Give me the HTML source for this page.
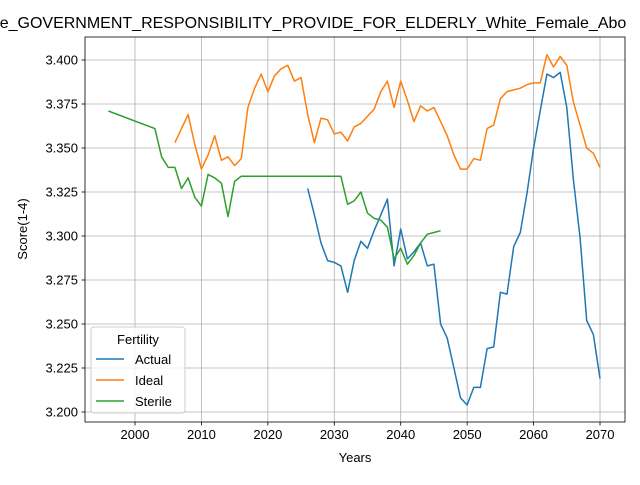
<!DOCTYPE html>
<html><head><meta charset="utf-8"><style>
body{margin:0;background:#fff;}
svg{font-family:"Liberation Sans","DejaVu Sans",sans-serif;}
</style></head><body>
<svg id="c" width="640" height="480" xmlns="http://www.w3.org/2000/svg"></svg>
<script>
const actualYears=[2026,2027,2028,2029,2030,2031,2032,2033,2034,2035,2036,2037,2038,2039,2040,2041,2042,2043,2044,2045,2046,2047,2048,2049,2050,2051,2052,2053,2054,2055,2056,2057,2058,2059,2060,2061,2062,2063,2064,2065,2066,2067,2068,2069,2070];
const actualValues=[3.327,3.312,3.296,3.286,3.285,3.283,3.268,3.286,3.297,3.293,3.303,3.312,3.321,3.283,3.304,3.287,3.291,3.296,3.283,3.284,3.250,3.242,3.225,3.208,3.204,3.214,3.214,3.236,3.237,3.268,3.267,3.294,3.302,3.324,3.350,3.371,3.392,3.390,3.393,3.373,3.332,3.299,3.252,3.244,3.219];
const idealYears=[2006,2007,2008,2009,2010,2011,2012,2013,2014,2015,2016,2017,2018,2019,2020,2021,2022,2023,2024,2025,2026,2027,2028,2029,2030,2031,2032,2033,2034,2035,2036,2037,2038,2039,2040,2041,2042,2043,2044,2045,2046,2047,2048,2049,2050,2051,2052,2053,2054,2055,2056,2057,2058,2059,2060,2061,2062,2063,2064,2065,2066,2067,2068,2069,2070];
const idealValues=[3.353,3.361,3.369,3.352,3.338,3.346,3.357,3.343,3.345,3.340,3.344,3.373,3.384,3.392,3.382,3.391,3.395,3.397,3.388,3.390,3.369,3.353,3.367,3.366,3.358,3.359,3.354,3.362,3.364,3.368,3.372,3.382,3.388,3.373,3.388,3.377,3.365,3.374,3.371,3.373,3.365,3.357,3.346,3.338,3.338,3.344,3.343,3.361,3.363,3.378,3.382,3.383,3.384,3.386,3.387,3.387,3.403,3.396,3.402,3.397,3.376,3.363,3.350,3.347,3.339];
const sterileYears=[1996,2003,2004,2005,2006,2007,2008,2009,2010,2011,2012,2013,2014,2015,2016,2017,2018,2019,2020,2021,2022,2023,2024,2025,2026,2027,2028,2029,2030,2031,2032,2033,2034,2035,2036,2037,2038,2039,2040,2041,2042,2043,2044,2045,2046];
const sterileValues=[3.371,3.361,3.345,3.339,3.339,3.327,3.333,3.322,3.317,3.335,3.333,3.330,3.311,3.331,3.334,3.334,3.334,3.334,3.334,3.334,3.334,3.334,3.334,3.334,3.334,3.334,3.334,3.334,3.334,3.334,3.318,3.320,3.325,3.313,3.310,3.309,3.305,3.287,3.293,3.284,3.289,3.296,3.301,3.302,3.303];
const xTicks=[2000,2010,2020,2030,2040,2050,2060,2070];
const yTicks=[3.200,3.225,3.250,3.275,3.300,3.325,3.350,3.375,3.400];

const svg=document.getElementById('c');
const NS='http://www.w3.org/2000/svg';
const L=85,R=625,T=37,B=422;
const xs=y=>135+(y-2000)*6.643;
const ys=v=>412-(v-3.2)*1760;
function mk(tag,attrs,parent){const e=document.createElementNS(NS,tag);for(const k in attrs)e.setAttribute(k,attrs[k]);(parent||svg).appendChild(e);return e;}

const grid=mk('g',{});


xTicks.forEach(t=>{
  const x=xs(t);
  mk('line',{x1:x,x2:x,y1:T,y2:B,stroke:'#b0b0b0','stroke-width':0.8},grid);
  mk('line',{x1:x,x2:x,y1:B,y2:B+3.5,stroke:'#000','stroke-width':0.8});
  const tx=mk('text',{x:x,y:B+17,'font-size':13,'text-anchor':'middle'});
  tx.textContent=t;
  
  
});
yTicks.forEach(t=>{
  const y=ys(t);
  mk('line',{x1:L,x2:R,y1:y,y2:y,stroke:'#b0b0b0','stroke-width':0.8},grid);
  mk('line',{x1:L-3.5,x2:L,y1:y,y2:y,stroke:'#000','stroke-width':0.8});
  const tx=mk('text',{x:L-7,y:y+4.5,'font-size':13,'text-anchor':'end'});
  tx.textContent=t.toFixed(3);
  
  
});
function series(yrs,vals,color,name){
  const p=mk('polyline',{points:yrs.map((y,i)=>xs(y).toFixed(1)+','+ys(vals[i]).toFixed(1)).join(' '),fill:'none',stroke:color,'stroke-width':1.5,'stroke-linejoin':'round'});
  
  
}
series(actualYears,actualValues,'#1f77b4','actual-line');
series(idealYears,idealValues,'#ff7f0e','ideal-line');
series(sterileYears,sterileValues,'#2ca02c','sterile-line');
const fr=mk('rect',{x:L,y:T,width:R-L,height:B-T,fill:'none',stroke:'#000','stroke-width':0.8});


const ti=mk('text',{x:313,y:28,'font-size':16,'text-anchor':'middle'});
ti.textContent='e_GOVERNMENT_RESPONSIBILITY_PROVIDE_FOR_ELDERLY_White_Female_Abo';


const xl=mk('text',{x:355,y:462,'font-size':13,'text-anchor':'middle'});
xl.textContent='Years';


const yl=mk('text',{x:27,y:229,'font-size':13,'text-anchor':'middle',transform:'rotate(-90 27 229)'});
yl.textContent='Score(1-4)';


const lg=mk('g',{});


mk('rect',{x:91,y:327,width:94,height:86,rx:3,fill:'#fff','fill-opacity':0.8,stroke:'#ccc'},lg);
const lt=mk('text',{x:138,y:344,'font-size':13,'text-anchor':'middle'},lg);
lt.textContent='Fertility';
[['Actual','#1f77b4'],['Ideal','#ff7f0e'],['Sterile','#2ca02c']].forEach((d,i)=>{
  const y=359+i*21;
  const e=mk('g',{},lg);
  
  
  mk('line',{x1:96,x2:124,y1:y,y2:y,stroke:d[1],'stroke-width':1.5},e);
  const t=mk('text',{x:135,y:y+5,'font-size':13},e);
  t.textContent=d[0];
});
</script>
</body></html>
